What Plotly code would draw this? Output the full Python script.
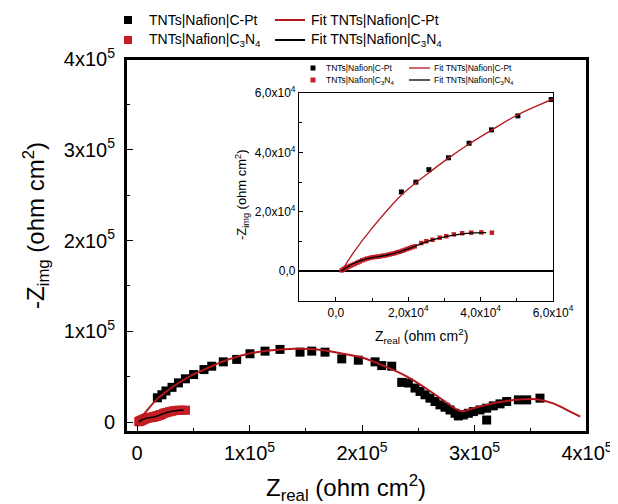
import plotly.graph_objects as go

# ---------------- data ----------------
cpt_x = [18100, 22100, 25700, 31100, 36800, 43000, 50300, 59500, 66400, 76700, 88600, 100400,
         113800, 127100, 144900, 155300, 167100, 182000, 196700, 211600, 217500, 226400,
         235300, 241200, 247100, 251600, 256000, 260400, 264900, 269300, 273800, 278200,
         282700, 285600, 290100, 294500, 299000, 304900, 310800, 310800, 316700, 322700,
         328600, 339000, 346400, 358200]
cpt_y = [26700, 30000, 34200, 38200, 43100, 47600, 52300, 57800, 61500, 66300, 69000, 75200,
         78100, 80000, 77000, 78100, 77000, 69600, 68100, 66300, 62200, 61500,
         43700, 43000, 37400, 33700, 30000, 26300, 22600, 18900, 16300, 13300,
         9600, 6700, 7800, 9600, 11500, 13300, 15200, 2200, 17800, 20000,
         22600, 24400, 24400, 26300]

c3n4_x = [1600, 2000, 2400, 2900, 3400, 3900, 4500, 5200, 5900, 6600, 7300, 8000, 8700, 9400,
          10100, 10800, 11500, 12100, 12800, 13500, 14200, 14900, 15600, 16300, 17000, 17700,
          18400, 19000, 19700, 20400, 21100, 21800, 23600, 25000, 26700, 28700, 30500, 32600,
          34900, 37400, 40200, 43100]
c3n4_y = [300, 600, 900, 1200, 1500, 1800, 2100, 2500, 2900, 3300, 3700, 4000, 4300, 4500,
          4700, 4800, 4900, 5000, 5200, 5300, 5500, 5700, 5900, 6100, 6400, 6600,
          6900, 7200, 7500, 7800, 8100, 8400, 9500, 10100, 10600, 11300, 11800, 12400,
          12800, 13000, 13100, 13000]

fit_cpt_x = [1500, 5000, 10000, 18000, 25000, 31000, 37000, 43000, 50000, 60000, 80000, 100000,
             120000, 140000, 160000, 180000, 200000, 220000, 240000, 260000, 275000, 288000,
             300000, 320000, 340000, 355000, 370000, 385000, 394000]
fit_cpt_y = [0, 6500, 14500, 25500, 32500, 38000, 43000, 47500, 52500, 58000, 68500, 75500,
             79000, 80800, 80000, 76000, 71000, 61500, 50000, 34500, 21500, 12000,
             15500, 21500, 24800, 25200, 20500, 11500, 6000]

fit_c3n4_x = [1500, 3000, 5000, 7000, 10000, 14000, 18000, 22000, 26000, 30000, 34000, 38000, 41500]
fit_c3n4_y = [0, 1300, 2700, 3700, 4600, 5400, 6700, 8500, 10300, 11600, 12400, 12900, 13000]

main_ticks = [0, 100000, 200000, 300000, 400000]
main_ticktext = ["0", "1x10<sup>5</sup>", "2x10<sup>5</sup>", "3x10<sup>5</sup>", "4x10<sup>5</sup>"]
inset_ticks = [0, 20000, 40000, 60000]
inset_ticktext = ["0,0", "2,0x10<sup>4</sup>", "4,0x10<sup>4</sup>", "6,0x10<sup>4</sup>"]

name_cpt = "TNTs|Nafion|C-Pt"
name_c3n4 = "TNTs|Nafion|C<sub>3</sub>N<sub>4</sub>"

RED = "#c41e24"
REDLINE = "#b3161c"
FONT = "Liberation Sans, Arial, sans-serif"
W, H = 618, 504
OFF = 8  # page body margin
# main plot area in (reference) pixels
L, R, T, B = 126, 587, 59, 432
PW, PH = R - L, B - T

fig = go.Figure()

# ---- main plot (axes x2 / y2) ----
fig.add_trace(go.Scatter(x=c3n4_x, y=c3n4_y, mode="markers", name=name_c3n4,
                         marker=dict(symbol="square", size=9, color=RED),
                         xaxis="x2", yaxis="y2"))
fig.add_trace(go.Scatter(x=cpt_x, y=cpt_y, mode="markers", name=name_cpt,
                         marker=dict(symbol="square", size=9, color="black"),
                         xaxis="x2", yaxis="y2"))
fig.add_trace(go.Scatter(x=fit_cpt_x, y=fit_cpt_y, mode="lines", name="Fit " + name_cpt,
                         line=dict(color=REDLINE, width=2, shape="spline"),
                         xaxis="x2", yaxis="y2"))
fig.add_trace(go.Scatter(x=fit_c3n4_x, y=fit_c3n4_y, mode="lines", name="Fit " + name_c3n4,
                         line=dict(color="black", width=1.5, shape="spline"),
                         xaxis="x2", yaxis="y2"))

# ---- inset (axes x3 / y3) ----
fig.add_trace(go.Scatter(x=cpt_x, y=cpt_y, mode="markers", name=name_cpt,
                         marker=dict(symbol="square", size=5, color="black"),
                         xaxis="x3", yaxis="y3"))
fig.add_trace(go.Scatter(x=c3n4_x, y=c3n4_y, mode="markers", name=name_c3n4,
                         marker=dict(symbol="square", size=4.5, color=RED),
                         xaxis="x3", yaxis="y3"))
fig.add_trace(go.Scatter(x=fit_cpt_x, y=fit_cpt_y, mode="lines", name="Fit " + name_cpt,
                         line=dict(color=REDLINE, width=1.3, shape="spline"),
                         xaxis="x3", yaxis="y3"))
fig.add_trace(go.Scatter(x=fit_c3n4_x, y=fit_c3n4_y, mode="lines", name="Fit " + name_c3n4,
                         line=dict(color="black", width=1.3, shape="spline"),
                         xaxis="x3", yaxis="y3"))


def dom_x(a, b):
    return [(a - L) / PW, (b - L) / PW]


def dom_y(top, bottom):
    return [(B - bottom) / PH, (B - top) / PH]


def px(p):  # reference x pixel -> paper fraction
    return (p - L) / PW


def py(p):  # reference y pixel -> paper fraction
    return (B - p) / PH


main_axis = dict(showline=True, mirror=True, linecolor="black", linewidth=2,
                 ticks="inside", ticklen=7, tickwidth=1.2, tickcolor="black",
                 showgrid=False, zeroline=False, automargin=False,
                 tickfont=dict(family=FONT, size=20, color="black"),
                 tickmode="array", tickvals=main_ticks, ticktext=main_ticktext,
                 minor=dict(ticks="inside", ticklen=4, tickwidth=1.2, tickcolor="black",
                            tick0=0, dtick=50000, showgrid=False))
inset_axis = dict(showline=True, mirror=True, linecolor="black", linewidth=1.2,
                  ticks="inside", ticklen=4, tickwidth=1, tickcolor="black",
                  showgrid=False, automargin=False,
                  tickfont=dict(family=FONT, size=12, color="black"),
                  tickmode="array", tickvals=inset_ticks, ticktext=inset_ticktext,
                  minor=dict(ticks="inside", ticklen=2.5, tickwidth=1, tickcolor="black",
                             tick0=0, dtick=10000, showgrid=False))

fig.update_layout(
    template="none",
    width=W, height=H, autosize=False,
    margin=dict(l=L - OFF, r=W - R + OFF, t=T - OFF, b=H - B + OFF, pad=0),
    paper_bgcolor="white", plot_bgcolor="rgba(0,0,0,0)",
    font=dict(family=FONT, color="black"),
    showlegend=False,
    # unused first axes pair, kept invisible
    xaxis=dict(visible=False, domain=[0, 0.01], anchor="y", showline=False,
               showgrid=False, zeroline=False, automargin=False),
    yaxis=dict(visible=False, domain=[0, 0.01], anchor="x", showline=False,
               showgrid=False, zeroline=False, automargin=False),
    xaxis2=dict(main_axis, domain=[0, 1], range=[-9800, 400000], anchor="y2",
                ticklabelstandoff=2),
    yaxis2=dict(main_axis, domain=[0, 1], range=[-11000, 400000], anchor="x2",
                ticklabelstandoff=5),
    xaxis3=dict(inset_axis, domain=dom_x(299, 553), range=[-10200, 60000], anchor="y3",
                zeroline=False),
    yaxis3=dict(inset_axis, domain=dom_y(93, 301), range=[-10000, 60000], anchor="x3",
                zeroline=True, zerolinecolor="black", zerolinewidth=1.5),
)

# frame of the main plot area (paper rectangle, drawn below the data)
fig.add_shape(type="rect", xref="paper", yref="paper", x0=0, x1=1, y0=0, y1=1,
              line=dict(color="black", width=2), fillcolor="rgba(0,0,0,0)", layer="below")

# ---- legend keys (symbols as shapes, labels as text) ----
legend_rows = [
    # (symbol kind, colour, symbol x (ref px), row y (ref px), symbol size, text x, label, font size)
    ("square", "black", 128, 20, 8, 148, name_cpt, 14),
    ("square", RED, 128, 40, 8, 148, name_c3n4, 14),
    ("line", REDLINE, (275, 305), 20, 2, 310, "Fit " + name_cpt, 14),
    ("line", "black", (275, 305), 40, 2, 310, "Fit " + name_c3n4, 14),
    ("square", "black", 313, 68, 5, 325, name_cpt, 8.5),
    ("square", RED, 313, 80, 5, 325, name_c3n4, 8.5),
    ("line", REDLINE, (409, 430), 68, 1.3, 433, "Fit " + name_cpt, 8.5),
    ("line", "black", (409, 430), 80, 1.3, 433, "Fit " + name_c3n4, 8.5),
]
for kind, col, sx, ry, size, tx, label, fs in legend_rows:
    if kind == "square":
        h = size / 2
        fig.add_shape(type="rect", xref="paper", yref="paper",
                      x0=px(sx - h), x1=px(sx + h), y0=py(ry + h), y1=py(ry - h),
                      fillcolor=col, line=dict(width=0))
    else:
        fig.add_shape(type="line", xref="paper", yref="paper",
                      x0=px(sx[0]), x1=px(sx[1]), y0=py(ry), y1=py(ry),
                      line=dict(color=col, width=size))
    fig.add_annotation(text=label, xref="paper", yref="paper", x=px(tx - 1), y=py(ry),
                       showarrow=False, xanchor="left", yanchor="middle",
                       font=dict(size=fs, family=FONT, color="black"))

# axis titles
fig.add_annotation(text="Z<sub>real</sub> (ohm cm<sup>2</sup>)", xref="paper", yref="paper",
                   x=px(346), y=py(488), showarrow=False,
                   xanchor="center", yanchor="middle",
                   font=dict(size=24, family=FONT, color="black"))
fig.add_annotation(text="-Z<sub>img</sub> (ohm cm<sup>2</sup>)", xref="paper", yref="paper",
                   x=px(36), y=py(226), showarrow=False, textangle=-90,
                   xanchor="center", yanchor="middle",
                   font=dict(size=24, family=FONT, color="black"))
fig.add_annotation(text="Z<sub>real</sub> (ohm cm<sup>2</sup>)", xref="paper", yref="paper",
                   x=px(421), y=py(336), showarrow=False,
                   xanchor="center", yanchor="middle",
                   font=dict(size=14, family=FONT, color="black"))
fig.add_annotation(text="-Z<sub>img</sub> (ohm cm<sup>2</sup>)", xref="paper", yref="paper",
                   x=px(242), y=py(195), showarrow=False, textangle=-90,
                   xanchor="center", yanchor="middle",
                   font=dict(size=13, family=FONT, color="black"))

fig.write_html("out.html")
